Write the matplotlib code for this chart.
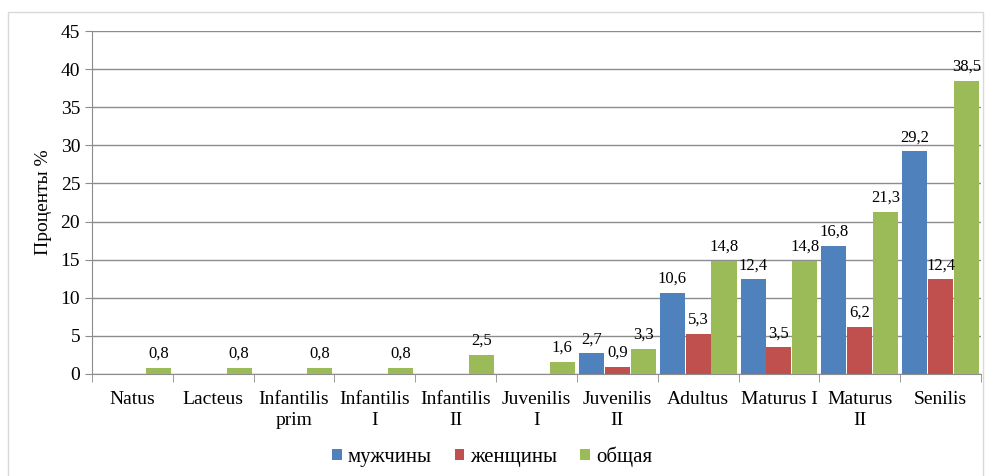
import matplotlib.pyplot as plt
import numpy as np
from matplotlib.patches import Rectangle

categories = ['Natus', 'Lacteus', 'Infantilis\nprim', 'Infantilis\nI', 'Infantilis\nII',
              'Juvenilis\nI', 'Juvenilis\nII', 'Adultus', 'Maturus I', 'Maturus\nII', 'Senilis']
men = [0, 0, 0, 0, 0, 0, 2.7, 10.6, 12.4, 16.8, 29.2]
women = [0, 0, 0, 0, 0, 0, 0.9, 5.3, 3.5, 6.2, 12.4]
total = [0.8, 0.8, 0.8, 0.8, 2.5, 1.6, 3.3, 14.8, 14.8, 21.3, 38.5]
series_names = ['мужчины', 'женщины', 'общая']
colors = ['#4F81BD', '#C0504D', '#9BBB59']

plt.rcParams['font.family'] = ['Liberation Serif', 'DejaVu Serif']

fig = plt.figure(figsize=(9.85, 4.76), dpi=100)
ax = fig.add_axes([92 / 985, 1 - 374 / 476, (981 - 92) / 985, (374 - 31) / 476])

# light frame around the chart
fig.patches.append(Rectangle((8 / 985, -0.05), (983 - 8) / 985, 1 - 12 / 476 + 0.05,
                             transform=fig.transFigure, fill=False,
                             edgecolor='#d9d9d9', linewidth=1))

x = np.arange(len(categories))
w = 0.31
offs = [-0.32, 0, 0.32]
for vals, off, col, name in zip([men, women, total], offs, colors, series_names):
    bars = ax.bar(x + off, vals, width=w, color=col, label=name, zorder=3)
    for b, v in zip(bars, vals):
        if v > 0:
            ax.text(b.get_x() + b.get_width() / 2, v + 0.8, str(v).replace('.', ','),
                    ha='center', va='bottom', fontsize=12, zorder=4)

ax.set_xlim(-0.5, len(categories) - 0.5)
ax.set_ylim(0, 45)
ax.set_yticks(range(0, 46, 5))
ax.yaxis.grid(True, color='#8c8c8c', linewidth=1)
ax.set_axisbelow(True)

ax.set_xticks(x)
ax.set_xticklabels(categories, fontsize=14, linespacing=1.3)
ax.set_xticks(np.arange(-0.5, len(categories), 1), minor=True)
ax.tick_params(axis='x', which='major', length=0, pad=12)
ax.tick_params(axis='x', which='minor', length=6, color='#8c8c8c')
ax.tick_params(axis='y', labelsize=14, length=5, color='#8c8c8c')

for s in ['top', 'right']:
    ax.spines[s].set_visible(False)
for s in ['left', 'bottom']:
    ax.spines[s].set_color('#8c8c8c')

ax.set_ylabel('Проценты %', fontsize=14, labelpad=6)

ax.legend(loc='lower center', bbox_to_anchor=(0.45, -0.325), ncol=3, frameon=False,
          fontsize=15, handlelength=0.45, handleheight=0.45, handletextpad=0.3,
          columnspacing=1.1)

fig.savefig('out.png', dpi=100)
